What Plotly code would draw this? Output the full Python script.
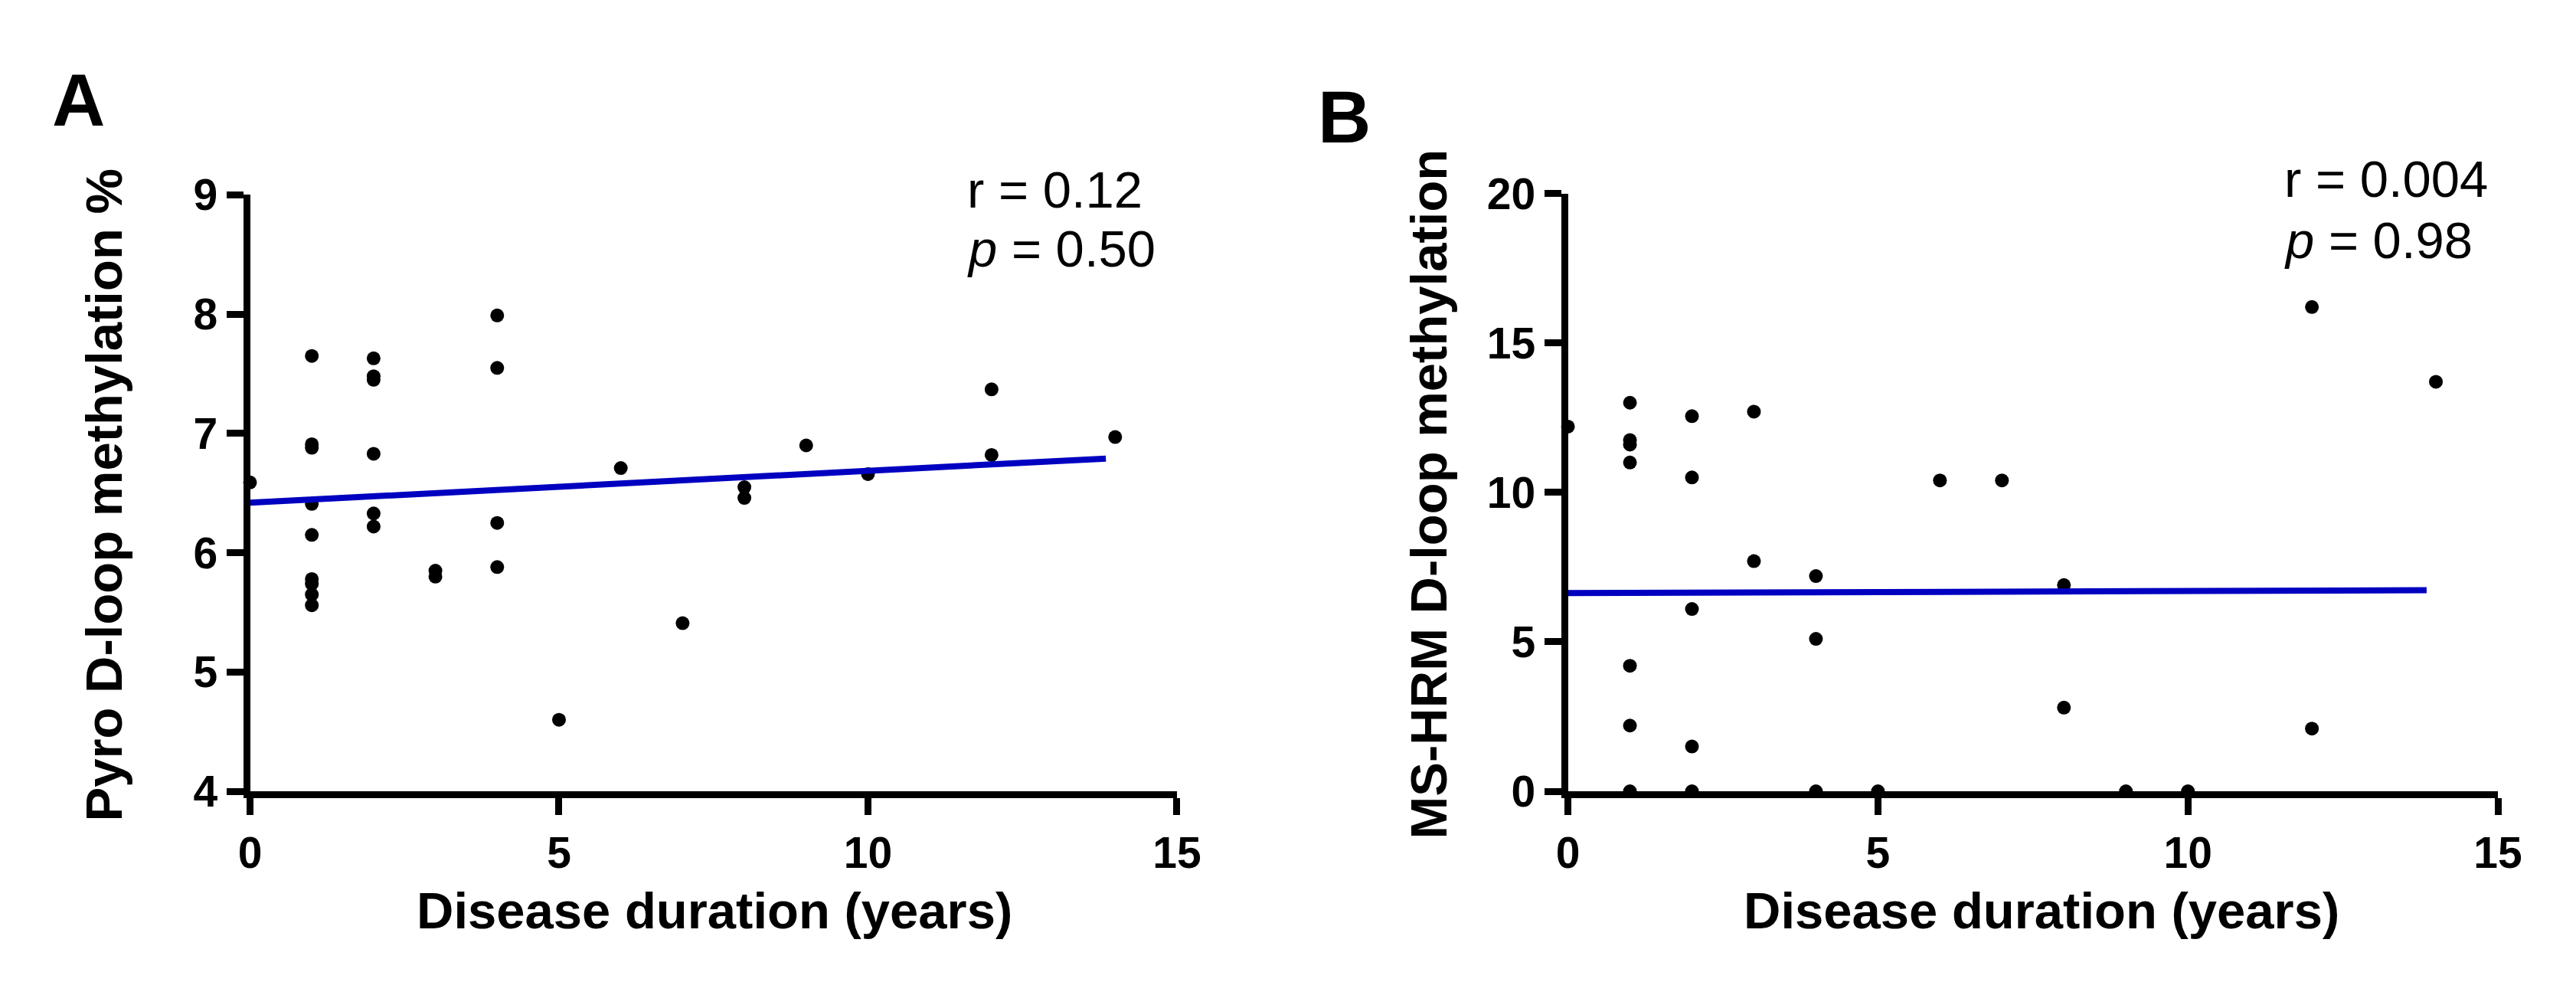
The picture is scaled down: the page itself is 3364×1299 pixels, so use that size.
import plotly.graph_objects as go

# ---- Data ----
A_x = [0, 1, 1, 1, 1, 1, 1, 1, 1, 1, 2, 2, 2, 2, 2, 2, 3, 3, 4, 4, 4, 4, 5, 6, 7, 8, 8, 9, 10, 12, 12, 14]
A_y = [6.59, 7.65, 6.88, 6.91, 6.41, 6.15, 5.74, 5.78, 5.65, 5.56, 7.63, 7.48, 7.45, 6.83, 6.33, 6.22,
       5.85, 5.80, 7.99, 7.55, 6.25, 5.88, 4.60, 6.71, 5.41, 6.55, 6.46, 6.90, 6.66, 7.37, 6.82, 6.97]
A_fit_x = [0, 13.85]
A_fit_y = [6.42, 6.79]

B_x = [0, 1, 1, 1, 1, 1, 1, 1, 2, 2, 2, 2, 2, 3, 3, 4, 4, 4, 5, 6, 7, 8, 8, 9, 10, 12, 12, 14]
B_y = [12.2, 13.0, 11.75, 11.6, 11.0, 4.2, 2.2, 0, 12.55, 10.5, 6.1, 1.5, 0, 12.7, 7.7, 7.2, 5.1, 0,
       0, 10.4, 10.4, 6.9, 2.8, 0, 0, 16.2, 2.1, 13.7]
B_fit_x = [0, 13.85]
B_fit_y = [6.63, 6.73]

x_ticks = [0, 5, 10, 15]
A_y_ticks = [4, 5, 6, 7, 8, 9]
B_y_ticks = [0, 5, 10, 15, 20]

A_stats = ["r = 0.12", "<i>p</i> = 0.50"]
B_stats = ["r = 0.004", "<i>p</i> = 0.98"]

x_title = "Disease duration (years)"
A_y_title = "Pyro D-loop methylation %"
B_y_title = "MS-HRM D-loop methylation"

W, H = 3364, 1299
FONT = "Liberation Sans"
BLUE = "#0000c0"

fig = go.Figure()

marker = dict(color="black", size=18, line=dict(width=0))
fig.add_trace(go.Scatter(x=A_x, y=A_y, mode="markers", marker=marker, cliponaxis=False,
                         xaxis="x", yaxis="y", showlegend=False))
fig.add_trace(go.Scatter(x=A_fit_x, y=A_fit_y, mode="lines", line=dict(color=BLUE, width=8),
                         xaxis="x", yaxis="y", showlegend=False))
fig.add_trace(go.Scatter(x=B_x, y=B_y, mode="markers", marker=marker, cliponaxis=False,
                         xaxis="x2", yaxis="y2", showlegend=False))
fig.add_trace(go.Scatter(x=B_fit_x, y=B_fit_y, mode="lines", line=dict(color=BLUE, width=8),
                         xaxis="x2", yaxis="y2", showlegend=False))

def px_x(p):
    return p / W

def px_y(p):
    return (H - p) / H

tickfont = dict(family=FONT, size=57, color="black", weight="bold")
common = dict(showline=True, linewidth=9, linecolor="black", ticks="outside", ticklen=22,
              tickwidth=9, tickcolor="black", tickfont=tickfont, showgrid=False,
              zeroline=False, layer="above traces")

fig.update_layout(
    width=W, height=H,
    margin=dict(l=0, r=0, t=0, b=0),
    paper_bgcolor="white", plot_bgcolor="white",
    xaxis=dict(domain=[px_x(315), px_x(1543)], range=[0, 15], tickvals=x_ticks, anchor="y", **common),
    yaxis=dict(domain=[px_y(1053), px_y(234)], range=[4, 9], tickvals=A_y_ticks, anchor="x", **common),
    xaxis2=dict(domain=[px_x(2061), px_x(3293)], range=[0, 15], tickvals=x_ticks, anchor="y2", **common),
    yaxis2=dict(domain=[px_y(1053), px_y(232)], range=[0, 20], tickvals=B_y_ticks, anchor="x2", **common),
)

ann = []
title_font = dict(family=FONT, size=67, color="black", weight="bold")
# x titles
ann.append(dict(text=x_title, x=px_x(930), y=px_y(1216), xref="paper", yref="paper",
                xanchor="center", yanchor="middle", showarrow=False, font=title_font))
ann.append(dict(text=x_title, x=px_x(2688), y=px_y(1216), xref="paper", yref="paper",
                xanchor="center", yanchor="middle", showarrow=False, font=title_font))
# y titles
ann.append(dict(text=A_y_title, x=px_x(121), y=px_y(646), xref="paper", yref="paper", textangle=-90,
                xanchor="center", yanchor="middle", showarrow=False, font=title_font))
ann.append(dict(text=B_y_title, x=px_x(1876), y=px_y(645), xref="paper", yref="paper", textangle=-90,
                xanchor="center", yanchor="middle", showarrow=False, font=title_font))
# panel letters
letter_font = dict(family=FONT, size=96, color="black", weight="bold")
ann.append(dict(text="A", x=px_x(88), y=px_y(104), xref="paper", yref="paper",
                xanchor="center", yanchor="middle", showarrow=False, font=letter_font))
ann.append(dict(text="B", x=px_x(1765), y=px_y(127), xref="paper", yref="paper",
                xanchor="center", yanchor="middle", showarrow=False, font=letter_font))
# stats
stat_font = dict(family=FONT, size=67, color="black")
for txt, yy in zip(A_stats, [227, 308]):
    ann.append(dict(text=txt, x=px_x(1263), y=px_y(yy), xref="paper", yref="paper",
                    xanchor="left", yanchor="middle", showarrow=False, font=stat_font))
for txt, yy in zip(B_stats, [212, 296]):
    ann.append(dict(text=txt, x=px_x(3008), y=px_y(yy), xref="paper", yref="paper",
                    xanchor="left", yanchor="middle", showarrow=False, font=stat_font))

fig.update_layout(annotations=ann)

fig.write_html("out.html", config={"displayModeBar": False},
               post_script="document.body.style.margin='0';")
